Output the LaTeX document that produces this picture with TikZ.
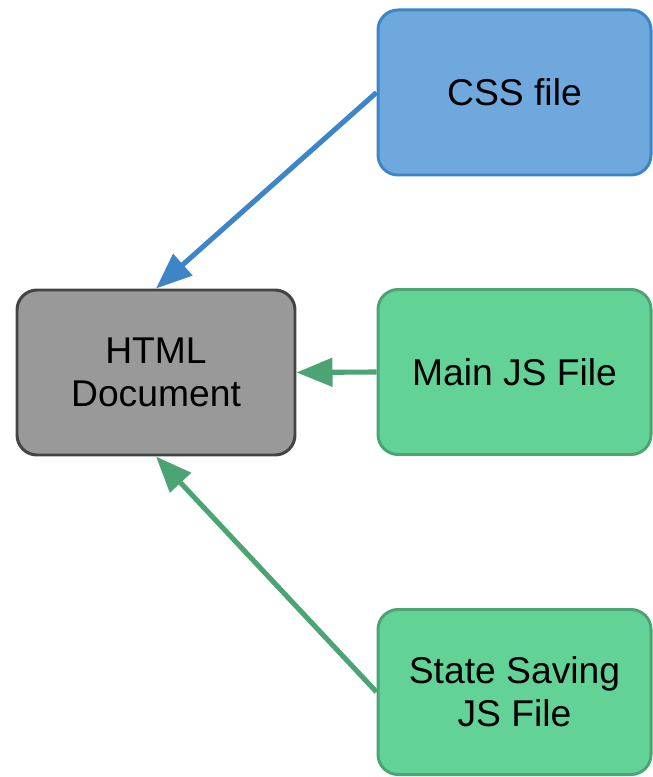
\documentclass[tikz,border=0pt]{standalone}
\usepackage{fontspec}
\setmainfont{Liberation Sans}
\usepackage{xcolor}
\usepackage{tikz}
\usetikzlibrary{positioning,arrows.meta}
\definecolor{CSSBlue}{HTML}{6FA8DC}
\definecolor{CSSEdge}{HTML}{3D85C6}
\definecolor{JSGreen}{HTML}{63D297}
\definecolor{JSEdge}{HTML}{4CA474}
\definecolor{DocGray}{HTML}{999999}
\definecolor{DocEdge}{HTML}{434343}

\begin{document}
\begin{tikzpicture}[
                filebox/.style={
                    rectangle,
                    rounded corners=0.4cm,
                    line width=1.7pt,
                    minimum width=5.46cm,
                    minimum height=3.3cm,
                    align=center,
                    font=\fontsize{21.2}{24.4}\selectfont
                },
                cssbox/.style={filebox, draw=CSSEdge, fill=CSSBlue},
                jsbox/.style={filebox, draw=JSEdge, fill=JSGreen},
                docbox/.style={filebox, draw=DocEdge, fill=DocGray, minimum width=5.56cm},
                link/.style={line width=2.9pt, -{Triangle[length=0.72cm,width=0.56cm]}}
            ]
                \useasboundingbox (0,0) rectangle (13.04,-15.54);

                \node[docbox] (html) at (3.12, -7.45) {HTML\\Document};
                \node[cssbox] (css) at (10.29, -1.85) {CSS file};
                \node[jsbox] (mainjs) at (10.29, -7.44) {Main JS File};
                \node[jsbox] (statejs) at (10.29, -13.84) {State Saving\\JS File};

                \draw[link, draw=CSSEdge, fill=CSSEdge] (css.west) -- (html.north);
                \draw[link, draw=JSEdge, fill=JSEdge] (mainjs.west) -- (html.east);
                \draw[link, draw=JSEdge, fill=JSEdge] (statejs.west) -- (html.south);
            \end{tikzpicture}
\end{document}
